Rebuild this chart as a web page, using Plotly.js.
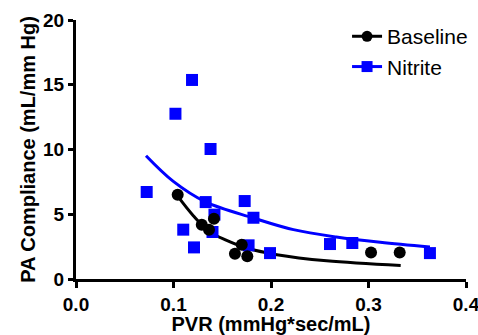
<!DOCTYPE html>
<html>
<head>
<meta charset="utf-8">
<script src="https://cdn.plot.ly/plotly-3.0.1.min.js"></script>
<style>html,body{margin:0;padding:0;background:#fff;}#chart{width:478px;height:335px;}</style>
</head>
<body>
<div id="chart"></div>
<script>
// Baseline measurements
const baselinePVR = [0.1043, 0.129, 0.1364, 0.1415, 0.163, 0.170, 0.1757, 0.3026, 0.332];
const baselineC   = [6.51, 4.19, 3.81, 4.66, 1.95, 2.65, 1.75, 2.05, 2.05];
// Nitrite measurements
const nitritePVR = [0.0725, 0.102, 0.119, 0.110, 0.121, 0.133, 0.138, 0.142, 0.140, 0.173, 0.182, 0.177, 0.199, 0.2605, 0.2834, 0.363];
const nitriteC   = [6.72, 12.76, 15.37, 3.81, 2.44, 5.94, 10.04, 4.97, 3.63, 6.02, 4.73, 2.60, 2.00, 2.70, 2.78, 2.00];
// Fit curves
const baselineFitX = [0.1043, 0.1203, 0.1364, 0.1545, 0.175, 0.206, 0.257, 0.333];
const baselineFitY = [6.40, 4.89, 3.68, 2.98, 2.39, 1.88, 1.41, 1.05];
const nitriteFitX = [0.0718, 0.0998, 0.133, 0.182, 0.223, 0.267, 0.312, 0.363];
const nitriteFitY = [9.52, 7.54, 5.95, 4.71, 3.81, 3.24, 2.83, 2.47];
const xTicks = [0, 0.1, 0.2, 0.3, 0.4];
const xTickText = ['0.0', '0.1', '0.2', '0.3', '0.4'];
const yTicks = [0, 5, 10, 15, 20];
const yTickText = ['0', '5', '10', '15', '20'];

const BLUE = '#0000ff';
const FONT = 'Liberation Sans, Arial, sans-serif';
const bold = a => a.map(s => '<b>' + s + '</b>');

const traces = [
  {x: baselineFitX, y: baselineFitY, mode: 'lines', line: {color: '#000', width: 3, shape: 'spline'}, showlegend: false, hoverinfo: 'skip'},
  {x: nitriteFitX, y: nitriteFitY, mode: 'lines', line: {color: BLUE, width: 3, shape: 'spline'}, showlegend: false, hoverinfo: 'skip'},
  {x: nitritePVR, y: nitriteC, mode: 'markers', marker: {symbol: 'square', size: 12, color: BLUE}, showlegend: false},
  {x: baselinePVR, y: baselineC, mode: 'markers', marker: {symbol: 'circle', size: 12, color: '#000'}, showlegend: false},
  {x: [null], y: [null], mode: 'lines+markers', name: 'Baseline', line: {color: '#000', width: 3}, marker: {symbol: 'circle', size: 11, color: '#000'}},
  {x: [null], y: [null], mode: 'lines+markers', name: 'Nitrite', line: {color: BLUE, width: 3}, marker: {symbol: 'square', size: 11, color: BLUE}}
];

const layout = {
  width: 478, height: 335,
  margin: {l: 76, r: 12, t: 20, b: 56, autoexpand: false},
  paper_bgcolor: '#fff', plot_bgcolor: '#fff',
  font: {family: FONT, color: '#000'},
  xaxis: {
    range: [0, 0.4], tickvals: xTicks, ticktext: bold(xTickText), automargin: false,
    ticklabeloverflow: 'allow',
    showgrid: false, zeroline: false, showline: true, linecolor: '#000', linewidth: 3,
    ticks: 'outside', ticklen: 6, tickwidth: 3, tickcolor: '#000',
    tickfont: {size: 19, family: FONT},
    title: {text: '<b>PVR (mmHg*sec/mL)</b>', font: {size: 20}}
  },
  yaxis: {
    range: [0, 20], tickvals: yTicks, ticktext: bold(yTickText), automargin: false,
    ticklabeloverflow: 'allow',
    showgrid: false, zeroline: false, showline: true, linecolor: '#000', linewidth: 3,
    ticks: 'outside', ticklen: 5, tickwidth: 3, tickcolor: '#000',
    tickfont: {size: 19, family: FONT},
    title: {text: '<b>PA Compliance (mL/mm Hg)</b>', font: {size: 20}, standoff: 3}
  },
  legend: {x: 0.695, y: 1.015, xanchor: 'left', yanchor: 'top', font: {size: 21}, bgcolor: 'rgba(0,0,0,0)', tracegroupgap: 0},
  showlegend: true
};

Plotly.newPlot('chart', traces, layout, {displayModeBar: false, staticPlot: true});
</script>
</body>
</html>
